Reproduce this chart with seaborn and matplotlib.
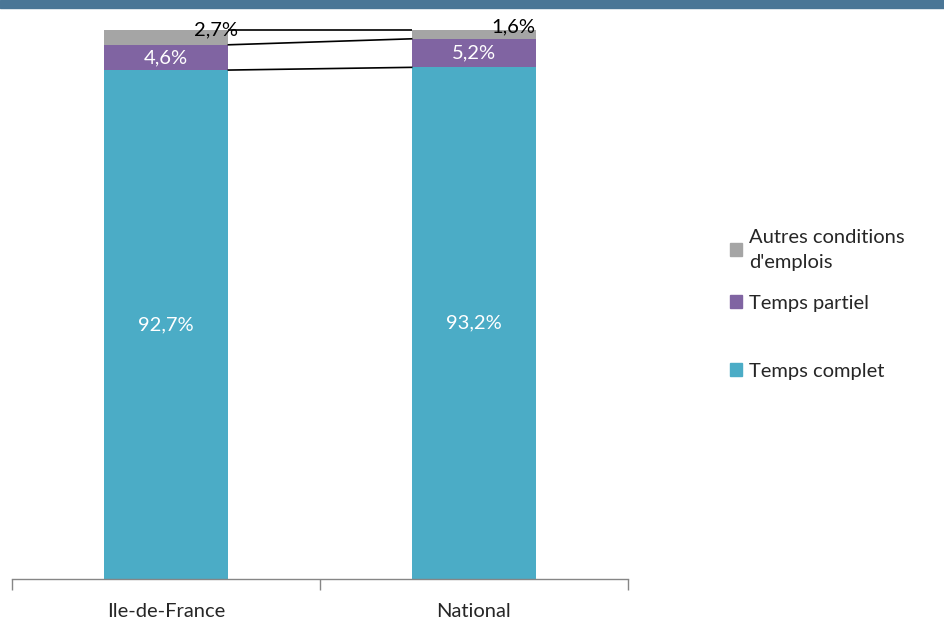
import matplotlib
matplotlib.use("Agg")
import matplotlib.pyplot as plt
from matplotlib.patches import Rectangle, Patch
import seaborn as sns
import numpy as np
import pandas as pd

categories = ["Ile-de-France", "National"]
temps_complet = [92.7, 93.2]
temps_partiel = [4.6, 5.2]
autres = [2.7, 1.6]
label_complet = ["92,7%", "93,2%"]
label_partiel = ["4,6%", "5,2%"]
label_autres = ["2,7%", "1,6%"]
series_names = ["Temps complet", "Temps partiel", "Autres conditions\nd'emplois"]

c_complet = "#4BACC6"
c_partiel = "#8064A2"
c_autres = "#A5A5A5"

sns.set_style("white")
plt.rcParams["font.family"] = ["Lato", "DejaVu Sans"]

W, H = 945, 619
fig = plt.figure(figsize=(W / 100, H / 100), dpi=100)
ax = fig.add_axes([12 / W, 40 / H, 616 / W, 549 / H])

cum1 = np.array(temps_complet)
cum2 = cum1 + np.array(temps_partiel)
cum3 = cum2 + np.array(autres)

df = pd.DataFrame({"cat": categories, "c1": cum1, "c2": cum2, "c3": cum3})
bw = 0.4
sns.barplot(data=df, x="cat", y="c3", color=c_autres, width=bw, saturation=1, ax=ax, edgecolor="none")
sns.barplot(data=df, x="cat", y="c2", color=c_partiel, width=bw, saturation=1, ax=ax, edgecolor="none")
sns.barplot(data=df, x="cat", y="c1", color=c_complet, width=bw, saturation=1, ax=ax, edgecolor="none")

# series lines
for cum in (cum1, cum2, cum3):
    ax.plot([0 + bw / 2, 1 - bw / 2], [cum[0], cum[1]], color="black", lw=1.2,
            solid_capstyle="butt", clip_on=False)

fs = 14.5
for i in range(2):
    ax.text(i, cum1[i] / 2, label_complet[i], color="white", ha="center", va="center", fontsize=fs)
    ax.text(i, (cum1[i] + cum2[i]) / 2, label_partiel[i], color="white", ha="center", va="center", fontsize=fs)
offs = [0.033, 0.0]
dy = [0.0, 0.6]
for i in range(2):
    ax.text(i + bw / 2 + offs[i], cum3[i] + dy[i], label_autres[i], color="black", ha="right", va="center", fontsize=fs)

ax.set_ylim(0, 100)
ax.set_xlim(-0.5, 1.5)
ax.set_xlabel("")
ax.set_ylabel("")
ax.set_yticks([])
for s in ("top", "right", "left"):
    ax.spines[s].set_visible(False)
ax.spines["bottom"].set_color("#868686")
ax.spines["bottom"].set_linewidth(1)
ax.set_xticks([0, 1])
ax.set_xticklabels(categories, fontsize=fs)
ax.tick_params(axis="x", which="major", length=0, pad=17, bottom=True)
ax.set_xticks([-0.5, 0.5, 1.5], minor=True)
ax.tick_params(axis="x", which="minor", length=8, color="#868686", width=1,
               direction="out", bottom=True)

common = dict(frameon=False, fontsize=fs, handlelength=0.6, handleheight=0.6,
              handletextpad=0.35, borderaxespad=0, borderpad=0)
leg1 = fig.legend([Patch(color=c_autres), Patch(color=c_partiel)],
                  [series_names[2], series_names[1]],
                  loc="upper left", bbox_to_anchor=(730 / W, 1 - 229 / H),
                  labelspacing=1.2, **common)
for t in leg1.get_texts():
    t.set_linespacing(1.55)
leg2 = fig.legend([Patch(color=c_complet)], [series_names[0]],
                  loc="center left", bbox_to_anchor=(730 / W, 1 - 371 / H), **common)

fig.add_artist(Rectangle((0, 1 - 8 / H), 1, 8 / H, transform=fig.transFigure,
                         color="#4A7696", zorder=10))

fig.savefig("out.png", dpi=100)
